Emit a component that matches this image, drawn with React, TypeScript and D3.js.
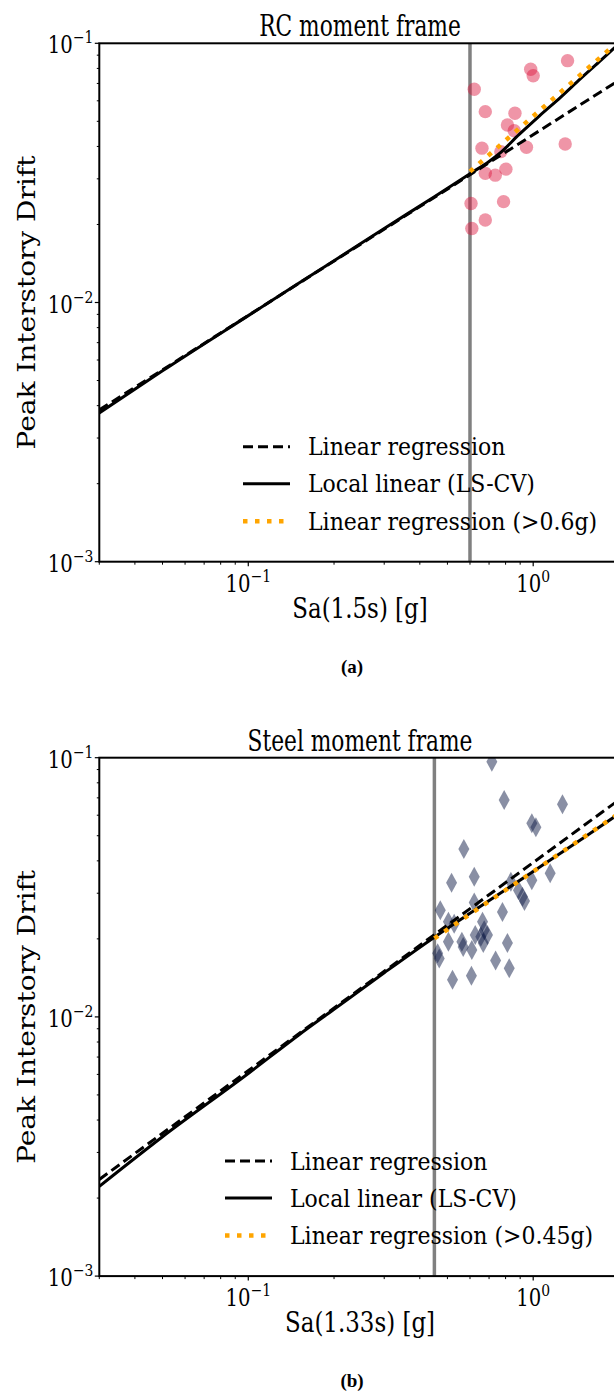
import React from "react";
import * as d3 from "d3";

// ---- data ----
const rcSa = [1.32, 0.98, 1.0, 0.621, 0.679, 0.863, 0.812, 0.858, 0.661, 0.947, 1.295, 0.77, 0.679, 0.736, 0.802, 0.605, 0.787, 0.679, 0.609];
const rcDrift = [0.0857, 0.0794, 0.075, 0.0665, 0.0545, 0.0537, 0.0484, 0.046, 0.0394, 0.0397, 0.0409, 0.0382, 0.0315, 0.031, 0.0327, 0.0241, 0.0245, 0.0208, 0.0193];

const steelSa = [0.716, 0.791, 1.267, 0.989, 1.022, 0.571, 0.517, 0.621, 1.147, 0.989, 0.835, 0.888, 0.917, 0.932, 0.472, 0.621, 0.78, 0.504, 0.528, 0.664, 0.673, 0.655, 0.691, 0.668, 0.462, 0.468, 0.504, 0.562, 0.568, 0.626, 0.609, 0.812, 0.738, 0.824, 0.521, 0.607];
const steelDrift = [0.0965, 0.0687, 0.0661, 0.0558, 0.0539, 0.0444, 0.0329, 0.0347, 0.0358, 0.0337, 0.0332, 0.0308, 0.0291, 0.028, 0.0258, 0.0276, 0.0254, 0.0233, 0.0229, 0.0233, 0.0216, 0.0204, 0.0207, 0.0193, 0.0176, 0.0168, 0.0195, 0.0195, 0.0186, 0.0207, 0.0181, 0.0193, 0.0165, 0.0154, 0.0139, 0.0144];

// linear regression (all data)
const rcLinX = [0.03, 2.1];
const rcLinY = [0.00385, 0.0745];
const steelLinX = [0.03, 2.1];
const steelLinY = [0.00236, 0.0715];

// local linear (LS-CV)
const rcLocX = [0.03, 0.05, 0.1, 0.2, 0.3, 0.45, 0.6, 0.7, 0.76, 0.893, 1.05, 1.25, 1.45, 1.7, 1.91, 2.1];
const rcLocY = [0.00375, 0.00545, 0.0089, 0.0145, 0.0193, 0.0256, 0.0314, 0.035, 0.0375, 0.0445, 0.0524, 0.062, 0.0722, 0.0846, 0.0951, 0.1046];
const steelLocX = [0.03, 0.05, 0.1, 0.15, 0.2, 0.3, 0.45, 0.6, 1.0, 1.5, 2.1];
const steelLocY = [0.00222, 0.00345, 0.00605, 0.0085, 0.0107, 0.0148, 0.0203, 0.0251, 0.0364, 0.049, 0.063];

// linear regression above threshold
const rcThrX = [0.6, 2.1];
const rcThrY = [0.032, 0.1069];
const steelThrX = [0.45, 2.1];
const steelThrY = [0.0201, 0.0632];

const xDomain = [0.03, 2.1];
const yDomain = [0.001, 0.1];
const xMajor = [0.1, 1];
const xMajorExp = ["−1", "0"];
const yMajor = [0.001, 0.01, 0.1];
const yMajorExp = ["−3", "−2", "−1"];

const FONT = "'DejaVu Serif', serif";

const LEFT = 99.3;
const RIGHT = 625;
const HEIGHT = 518.4;

type PanelProps = {
  id: string;
  top: number;
  title: string;
  xLabel: string;
  caption: string;
  sa: number[];
  drift: number[];
  marker: "circle" | "diamond";
  threshold: number;
  linX: number[];
  linY: number[];
  locX: number[];
  locY: number[];
  thrX: number[];
  thrY: number[];
  thrLabel: string;
  legendX: number;
};

// text squeezed horizontally like the reference
const Txt = ({ x, y, size, sx = 0.82, anchor = "middle", children }: any) => (
  <text
    transform={`translate(${x},${y}) scale(${sx},1)`}
    fontFamily={FONT}
    fontSize={size}
    textAnchor={anchor}
    fill="#000"
  >
    {children}
  </text>
);

const Panel = (p: PanelProps) => {
  const x = d3.scaleLog().domain(xDomain).range([LEFT, RIGHT]);
  const y = d3.scaleLog().domain(yDomain).range([p.top + HEIGHT, p.top]);
  const bottom = p.top + HEIGHT;
  const line = d3
    .line<[number, number]>()
    .x((d) => x(d[0]))
    .y((d) => y(d[1]));
  const smooth = d3
    .line<[number, number]>()
    .x((d) => x(d[0]))
    .y((d) => y(d[1]))
    .curve(d3.curveMonotoneX);
  const pts = (xs: number[], ys: number[]) => xs.map((v, i) => [v, ys[i]] as [number, number]);

  const xMinor = x.ticks().filter((t) => !xMajor.some((m) => Math.abs(m - t) < 1e-9));
  const yMinor = y.ticks().filter((t) => !yMajor.some((m) => Math.abs(m - t) < 1e-12));
  const clip = `clip-${p.id}`;

  const rows = [
    { label: "Linear regression", stroke: "#000", dash: "10,5", w: 3 },
    { label: "Local linear (LS-CV)", stroke: "#000", dash: null, w: 3 },
    { label: p.thrLabel, stroke: "#FFA500", dash: "4.5,7.5", w: 4.5 },
  ];
  const rowY = [bottom - 115, bottom - 78, bottom - 40.5];

  return (
    <g>
      <defs>
        <clipPath id={clip}>
          <rect x={LEFT} y={p.top} width={RIGHT - LEFT} height={HEIGHT} />
        </clipPath>
      </defs>
      <g clipPath={`url(#${clip})`}>
        <line x1={x(p.threshold)} x2={x(p.threshold)} y1={p.top} y2={bottom} stroke="#808080" strokeWidth={3.5} />
        {p.sa.map((s, i) =>
          p.marker === "circle" ? (
            <circle key={i} cx={x(s)} cy={y(p.drift[i])} r={6.7} fill="#dc143c" fillOpacity={0.45} />
          ) : (
            <path
              key={i}
              transform={`translate(${x(s)},${y(p.drift[i])})`}
              d="M0,-10L5.5,0L0,10L-5.5,0Z"
              fill="#14204a"
              fillOpacity={0.5}
            />
          )
        )}
        <path d={line(pts(p.linX, p.linY)) || ""} fill="none" stroke="#000" strokeWidth={3} strokeDasharray="10,5" />
        <path d={smooth(pts(p.locX, p.locY)) || ""} fill="none" stroke="#000" strokeWidth={3} />
        <path d={line(pts(p.thrX, p.thrY)) || ""} fill="none" stroke="#FFA500" strokeWidth={4.5} strokeDasharray="4.5,7.5" />
      </g>

      {/* frame */}
      <rect x={LEFT} y={p.top} width={RIGHT - LEFT} height={HEIGHT} fill="none" stroke="#000" strokeWidth={2} />

      {/* x ticks */}
      {xMinor.map((t, i) => (
        <line key={`xm${i}`} x1={x(t)} x2={x(t)} y1={bottom} y2={bottom + 3} stroke="#000" strokeWidth={1} />
      ))}
      {xMajor.map((t, i) => (
        <g key={`xM${i}`}>
          <line x1={x(t)} x2={x(t)} y1={bottom} y2={bottom + 4.5} stroke="#000" strokeWidth={1.2} />
          <Txt x={x(t)} y={bottom + 30} size={24}>
            <tspan>10</tspan>
            <tspan dy={-10} fontSize={17}>{xMajorExp[i]}</tspan>
          </Txt>
        </g>
      ))}

      {/* y ticks */}
      {yMinor.map((t, i) => (
        <line key={`ym${i}`} x1={LEFT - 2.5} x2={LEFT} y1={y(t)} y2={y(t)} stroke="#000" strokeWidth={1} />
      ))}
      {yMajor.map((t, i) => (
        <g key={`yM${i}`}>
          <line x1={LEFT - 4.5} x2={LEFT} y1={y(t)} y2={y(t)} stroke="#000" strokeWidth={1.2} />
          <Txt x={LEFT - 6} y={y(t) + 10} size={24} anchor="end">
            <tspan>10</tspan>
            <tspan dy={-10} fontSize={17}>{yMajorExp[i]}</tspan>
          </Txt>
        </g>
      ))}

      {/* titles and labels */}
      <Txt x={360} y={p.top - 7} size={29} sx={0.75}>{p.title}</Txt>
      <Txt x={360} y={bottom + 56} size={27} sx={0.85}>{p.xLabel}</Txt>
      <text
        transform={`translate(35,${p.top + HEIGHT / 2}) rotate(-90) scale(1,0.85)`}
        fontFamily={FONT}
        fontSize={28}
        textAnchor="middle"
      >
        Peak Interstory Drift
      </text>
      <text x={352} y={bottom + 111} fontFamily="'Liberation Serif', serif" fontSize={19} fontWeight="bold" textAnchor="middle">
        ({p.caption})
      </text>

      {/* legend */}
      {rows.map((r, i) => (
        <g key={`lg${i}`}>
          <line
            x1={p.legendX}
            x2={p.legendX + 47}
            y1={rowY[i]}
            y2={rowY[i]}
            stroke={r.stroke}
            strokeWidth={r.w}
            strokeDasharray={r.dash || undefined}
          />
          <Txt x={p.legendX + 65} y={rowY[i] + 8.5} size={25} sx={0.88} anchor="start">{r.label}</Txt>
        </g>
      ))}
    </g>
  );
};

export default function App() {
  return (
    <svg width={614} height={1393} style={{ position: "absolute", left: 0, top: 0, background: "#fff" }}>
      <Panel
        id="rc"
        top={43.3}
        title="RC moment frame"
        xLabel="Sa(1.5s) [g]"
        caption="a"
        sa={rcSa}
        drift={rcDrift}
        marker="circle"
        threshold={0.6}
        linX={rcLinX}
        linY={rcLinY}
        locX={rcLocX}
        locY={rcLocY}
        thrX={rcThrX}
        thrY={rcThrY}
        thrLabel="Linear regression (>0.6g)"
        legendX={243}
      />
      <Panel
        id="steel"
        top={757.7}
        title="Steel moment frame"
        xLabel="Sa(1.33s) [g]"
        caption="b"
        sa={steelSa}
        drift={steelDrift}
        marker="diamond"
        threshold={0.45}
        linX={steelLinX}
        linY={steelLinY}
        locX={steelLocX}
        locY={steelLocY}
        thrX={steelThrX}
        thrY={steelThrY}
        thrLabel="Linear regression (>0.45g)"
        legendX={225}
      />
    </svg>
  );
}
